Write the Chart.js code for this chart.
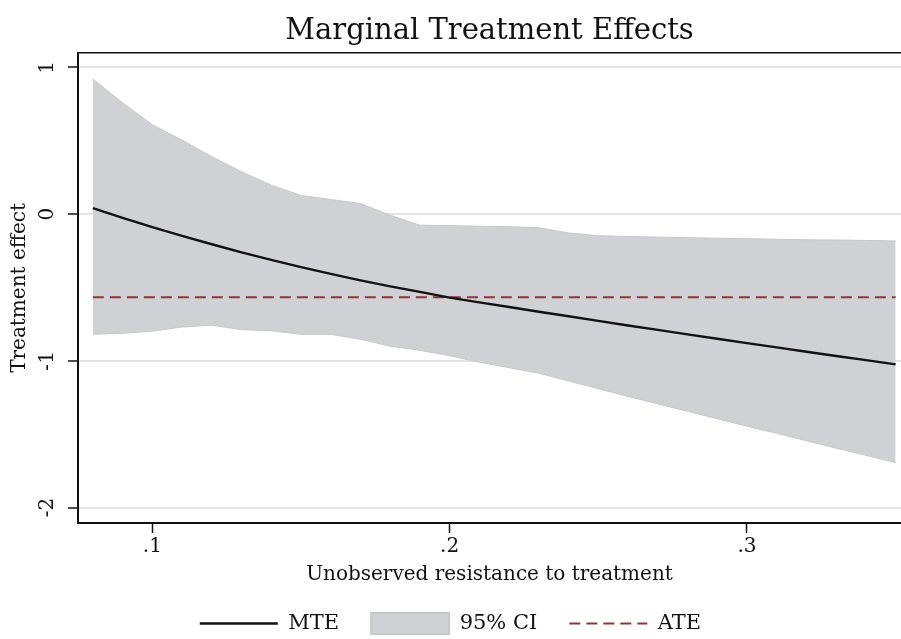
<!DOCTYPE html>
<html><head><meta charset="utf-8">
<script src="https://cdn.jsdelivr.net/npm/chart.js@4.4.1/dist/chart.umd.min.js"></script>
<style>html,body{margin:0;padding:0;background:#fff;overflow:hidden}#wrap{width:901px;height:639px;position:relative}</style>
</head><body><div id="wrap"><canvas id="c" width="901" height="639"></canvas></div>
<script>
const titleText = 'Marginal Treatment Effects';
const xTitle = 'Unobserved resistance to treatment';
const yTitle = 'Treatment effect';
const uValues = [0.08,0.09,0.10,0.11,0.12,0.13,0.14,0.15,0.16,0.17,0.18,0.19,0.20,0.21,0.22,0.23,0.24,0.25,0.26,0.27,0.28,0.29,0.30,0.31,0.32,0.33,0.34,0.35];
const mteValues = [0.041,-0.025,-0.088,-0.148,-0.205,-0.260,-0.312,-0.361,-0.407,-0.451,-0.492,-0.530,-0.569,-0.601,-0.633,-0.665,-0.696,-0.727,-0.759,-0.789,-0.819,-0.849,-0.879,-0.908,-0.938,-0.967,-0.995,-1.024];
const ciUpper = [0.921,0.760,0.610,0.505,0.392,0.290,0.198,0.128,0.100,0.073,-0.007,-0.075,-0.078,-0.082,-0.085,-0.092,-0.128,-0.147,-0.152,-0.156,-0.160,-0.164,-0.167,-0.171,-0.174,-0.176,-0.179,-0.182];
const ciLower = [-0.819,-0.812,-0.798,-0.769,-0.757,-0.787,-0.795,-0.819,-0.819,-0.853,-0.900,-0.928,-0.965,-1.010,-1.046,-1.084,-1.137,-1.190,-1.242,-1.293,-1.344,-1.394,-1.445,-1.494,-1.545,-1.595,-1.644,-1.694];
const ateValue = -0.566;
const xTickValues = [0.1,0.2,0.3];
const xTickLabels = ['.1','.2','.3'];
const yTickValues = [-2,-1,0,1];
const yTickLabels = ['-2','-1','0','1'];
const legendLabels = ['MTE','95% CI','ATE'];

const SERIF = "'DejaVu Serif', serif";
const INK = '#111111';
const BAND = '#d0d1d4';
const BAND_EDGE = '#c7c8cb';
const ATE_COLOR = '#90353b';

const topBorder = {
  id: 'topBorder',
  afterDatasetsDraw(chart) {
    const a = chart.chartArea, ctx = chart.ctx;
    ctx.save();
    ctx.strokeStyle = INK; ctx.lineWidth = 1.5;
    ctx.beginPath(); ctx.moveTo(a.left, a.top); ctx.lineTo(a.right, a.top); ctx.stroke();
    ctx.restore();
  }
};

new Chart(document.getElementById('c'), {
  type: 'line',
  data: {
    datasets: [
      { label: legendLabels[0], data: uValues.map((u,i)=>({x:u,y:mteValues[i]})), borderColor: INK, borderWidth: 2.4, pointRadius: 0, fill: false, tension: 0, order: 0 },
      { label: legendLabels[1], data: uValues.map((u,i)=>({x:u,y:ciUpper[i]})), borderColor: BAND_EDGE, borderWidth: 1, backgroundColor: BAND, pointRadius: 0, fill: '+1', tension: 0, order: 3 },
      { label: 'lower', data: uValues.map((u,i)=>({x:u,y:ciLower[i]})), borderColor: BAND_EDGE, borderWidth: 1, pointRadius: 0, fill: false, tension: 0, order: 2 },
      { label: legendLabels[2], data: [{x:uValues[0],y:ateValue},{x:uValues[uValues.length-1],y:ateValue}], borderColor: ATE_COLOR, borderWidth: 2, borderDash: [11,6], pointRadius: 0, fill: false, order: 1 }
    ]
  },
  options: {
    responsive: false, animation: false, devicePixelRatio: 1,
    layout: { padding: { left: 0, right: 0, top: 0, bottom: -5 } },
    plugins: {
      title: { display: true, fullSize: false, text: titleText, color: INK, font: { family: SERIF, size: 29, weight: 'normal', lineHeight: 1.2 }, padding: { top: 14, bottom: 4 } },
      tooltip: { enabled: false },
      legend: {
        position: 'bottom',
        labels: {
          usePointStyle: true, pointStyleWidth: 78, boxHeight: 21, padding: 32, color: INK,
          font: { family: SERIF, size: 21 },
          generateLabels: () => [
            { text: legendLabels[0], pointStyle: 'line', strokeStyle: INK, lineWidth: 2.4, fillStyle: INK, fontColor: INK, datasetIndex: 0 },
            { text: legendLabels[1], pointStyle: 'rect', strokeStyle: BAND_EDGE, lineWidth: 2, fillStyle: BAND, fontColor: INK, datasetIndex: 1 },
            { text: legendLabels[2], pointStyle: 'line', strokeStyle: ATE_COLOR, lineWidth: 2, lineDash: [11,6], fillStyle: ATE_COLOR, fontColor: INK, datasetIndex: 3 }
          ]
        }
      }
    },
    scales: {
      x: {
        type: 'linear', min: 0.075, max: 0.3518,
        afterBuildTicks: s => { s.ticks = xTickValues.map(v => ({ value: v })); },
        afterFit: s => { s.height = 58; },
        ticks: { color: INK, font: { family: SERIF, size: 20 }, padding: 2, maxRotation: 0, callback: (v, i) => xTickLabels[i] },
        grid: { display: true, drawOnChartArea: false, drawTicks: true, tickLength: 10, tickColor: INK, tickWidth: 1.5 },
        border: { display: true, color: INK, width: 2 },
        title: { display: true, text: xTitle, color: INK, font: { family: SERIF, size: 20, lineHeight: 1.2 }, padding: { top: 0, bottom: -6 } }
      },
      y: {
        type: 'linear', min: -2.105, max: 1.1,
        afterBuildTicks: s => { s.ticks = yTickValues.map(v => ({ value: v })); },
        afterFit: s => { s.width = 78; },
        ticks: { color: INK, font: { family: SERIF, size: 20 }, padding: 10, minRotation: 90, maxRotation: 90, crossAlign: 'center', callback: (v, i) => yTickLabels[i] },
        grid: { color: '#e3e3e3', lineWidth: 2, drawTicks: true, tickLength: 10, tickColor: INK, tickWidth: 1.5 },
        border: { display: true, color: INK, width: 2 },
        title: { display: true, text: yTitle, color: INK, font: { family: SERIF, size: 20, lineHeight: 1.2 }, padding: { top: 8, bottom: 0 } }
      }
    }
  },
  plugins: [topBorder]
});
</script></body></html>
